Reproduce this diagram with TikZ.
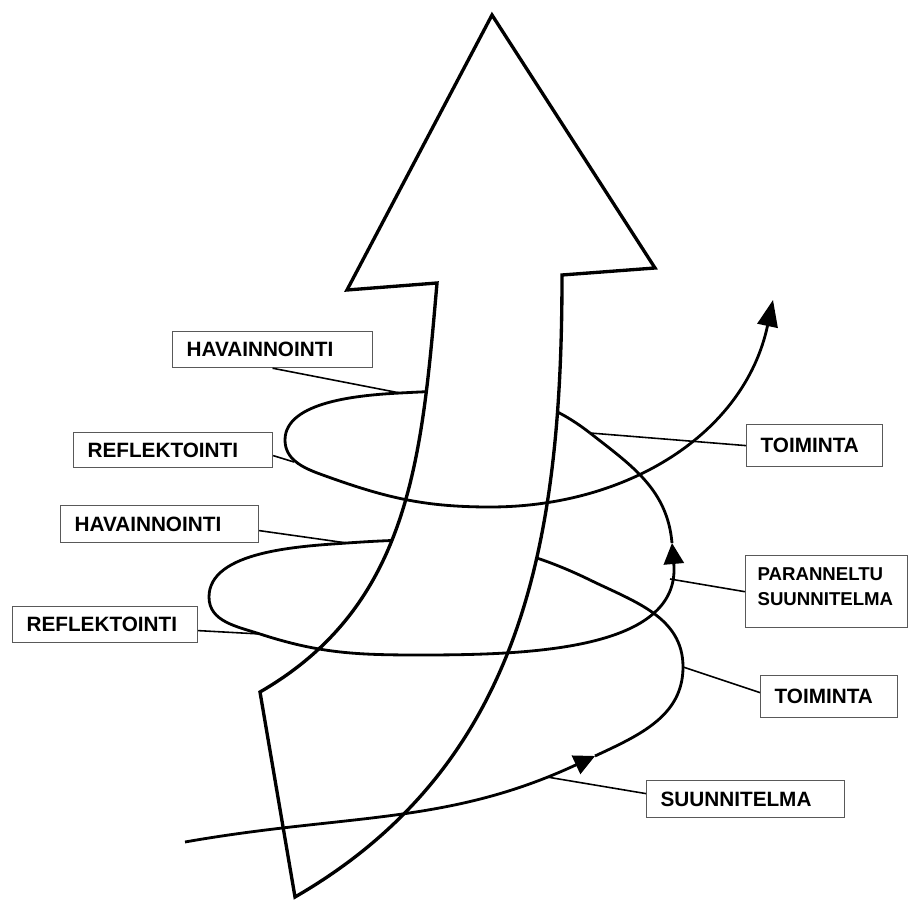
\documentclass[tikz,border=0pt]{standalone}
\usepackage{fontspec}
\setmainfont{Liberation Sans}
\usetikzlibrary{arrows.meta}
\tikzset{
  label box/.style={draw=black!65, line width=0.7pt, fill=white, anchor=north west,
    align=left, inner xsep=0.28cm, inner ysep=0pt,
    font=\bfseries\fontsize{11.8}{14.2}\selectfont},
  leader/.style={line width=0.9pt},
  spiral/.style={line width=1.6pt, line join=round},
  shaft/.style={line width=1.9pt, line join=miter, fill=white},
  midtip/.style={-{Triangle[length=0.42cm,width=0.4cm]}},
}

\begin{document}
\begin{tikzpicture}[x=0.02cm, y=0.02cm]
\useasboundingbox (0,0) rectangle (909,900);

% points on the spiral
\coordinate (s0) at (185,58);
\coordinate (a1) at (595,144);
\coordinate (r1) at (683,233);
\coordinate (b1) at (590,320);
\coordinate (q1) at (347,357);
\coordinate (l1) at (209,303);
\coordinate (d1) at (260,266);
\coordinate (e1) at (420,245);
\coordinate (a2) at (672,357);
\coordinate (f1) at (590,467);
\coordinate (g1) at (400,507);
\coordinate (h1) at (285,460);
\coordinate (k1) at (320,426);
\coordinate (j1) at (490,393);
\coordinate (t1) at (773,600);
\coordinate (m-ref1) at (294,438);
\coordinate (m-par) at (670,321);
\coordinate (m-suun) at (547,123);

% spiral, parts behind the big arrow
\draw[spiral] (b1) to[out=154,in=4] (q1) to[out=184,in=90,looseness=0.8] (l1) to[out=270,in=162] (d1);
\draw[spiral] (f1) to[out=142,in=3] (g1) to[out=183,in=90,looseness=0.8] (h1);

% big arrow
\draw[shaft] (492,885) -- (655,632) -- (562,625)
  to[out=270,in=30] (295,3)
  -- (260,208)
  to[out=30,in=265] (437,617)
  -- (347,610) -- cycle;

% spiral, parts in front
\draw[spiral, midtip] (s0) to[out=10,in=205] (a1);
\draw[spiral] (a1) to[out=25,in=270] (r1) to[out=90,in=334] (b1);
\draw[spiral, midtip] (d1) to[out=342,in=180] (e1) to[out=0,in=275] (a2);
\draw[spiral] (a2) to[out=95,in=322] (f1);
\draw[spiral, -{Triangle[length=0.53cm,width=0.41cm]}] (h1) to[out=270,in=160] (k1)
  to[out=340,in=180] (j1) to[out=0,in=258] (t1);

% labels
\node[label box, text width=3.44cm, minimum height=0.72cm] (hav1) at (172,569) {HAVAINNOINTI};
\node[label box, text width=3.42cm, minimum height=0.70cm] (ref1) at (73,468) {REFLEKTOINTI};
\node[label box, text width=3.40cm, minimum height=0.74cm] (hav2) at (60,395) {HAVAINNOINTI};
\node[label box, text width=3.14cm, minimum height=0.72cm] (ref2) at (12,294) {REFLEKTOINTI};
\node[label box, text width=2.16cm, minimum height=0.84cm] (toi1) at (746,476) {TOIMINTA};
\node[label box, text width=2.76cm, inner xsep=0.24cm, inner ysep=6.8pt, text depth=0.71cm,
  font=\bfseries\fontsize{10.6}{14.2}\selectfont] (par) at (745,345) {PARANNELTU\\SUUNNITELMA};
\node[label box, text width=2.18cm, minimum height=0.84cm] (toi2) at (760,225) {TOIMINTA};
\node[label box, text width=3.40cm, minimum height=0.74cm] (suun) at (646,120) {SUUNNITELMA};

% leaders
\draw[leader] (hav1.south) -- (g1);
\draw[leader] ([yshift=-0.11cm]ref1.east) -- (m-ref1);
\draw[leader] ([yshift=-0.13cm]hav2.east) -- (q1);
\draw[leader] ([yshift=-0.12cm]ref2.east) -- (d1);
\draw[leader] (toi1.west) -- (f1);
\draw[leader] (par.west) -- (m-par);
\draw[leader] ([yshift=0.08cm]toi2.west) -- (r1);
\draw[leader] ([yshift=0.11cm]suun.west) -- (m-suun);
\end{tikzpicture}
\end{document}
